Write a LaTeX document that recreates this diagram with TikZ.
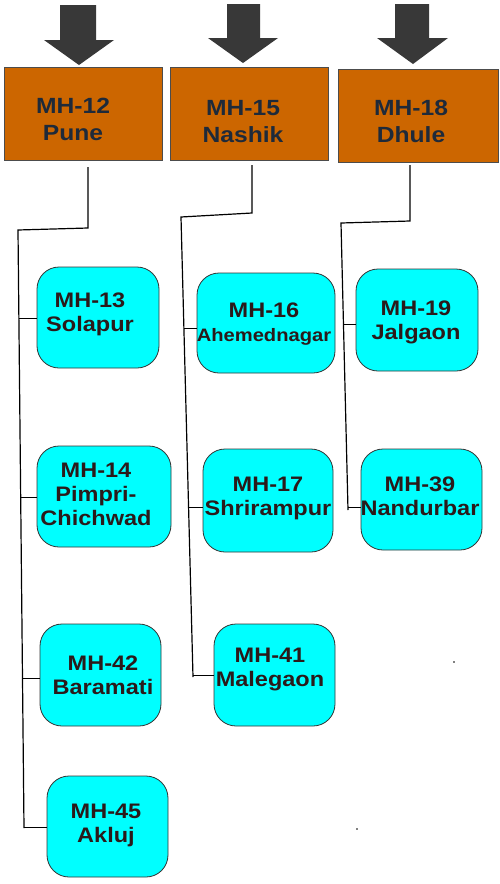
\documentclass[tikz,border=0pt]{standalone}
\usepackage{fontspec}
\setmainfont{Liberation Sans}
\newfontfamily\labfont[FakeStretch=1.12]{Liberation Sans}
\usetikzlibrary{calc}
\definecolor{hubor}{HTML}{CC6600}
\definecolor{hubtxt}{HTML}{1E2A3A}
\definecolor{subcy}{HTML}{00FFFF}
\definecolor{subtxt}{HTML}{2B1A1A}
\definecolor{arrgray}{HTML}{383838}
\begin{document}
\begin{tikzpicture}[x=1pt,y=-1pt,
  hub/.style={draw=gray!60!black, line width=0.8pt, fill=hubor, inner sep=0pt,
    minimum height=93pt},
  hubtext/.style={text=hubtxt, align=center, inner sep=0pt, anchor=north,
    font=\labfont\bfseries\fontsize{22}{27}\selectfont},
  sub/.style={draw=gray!40!black, line width=0.8pt, fill=subcy, inner sep=0pt,
    rounded corners=22pt, minimum height=101pt},
  subtext/.style={text=subtxt, align=center, inner sep=0pt, anchor=north,
    font=\labfont\bfseries\fontsize{21}{24}\selectfont},
  conn/.style={draw=black, line width=1.2pt},
  blockarrow/.style={fill=arrgray, draw=none}
]
\useasboundingbox (0,0) rectangle (500,884);

% block arrows
\fill[blockarrow] (60,5) -- (96,5) -- (96,40) -- (114,40) -- (79,65) -- (44,40) -- (60,40) -- cycle;
\fill[blockarrow] (227,4) -- (260,4) -- (260,38) -- (278,38) -- (243,63) -- (208,38) -- (227,38) -- cycle;
\fill[blockarrow] (395,4) -- (429,4) -- (429,38) -- (448,38) -- (413,64) -- (377,38) -- (395,38) -- cycle;

% hub boxes
\node[hub, minimum width=158pt] (o1) at (83,113.5) {};
\node[hub, minimum width=158pt] (o2) at (249,113.5) {};
\node[hub, minimum width=160pt] (o3) at (418,115.5) {};
\node[hubtext] (o1t) at (73,98) {MH-12\\Pune};
\node[hubtext] (o2t) at (243,100) {MH-15\\Nashik};
\node[hubtext] (o3t) at (411,100) {MH-18\\Dhule};

% sub boxes
\node[sub, minimum width=122pt] (sol) at (98,317.5) {};
\node[sub, minimum width=134pt] (pim) at (104,496.5) {};
\node[sub, minimum width=121pt, minimum height=102pt] (bar) at (100.5,675) {};
\node[sub, minimum width=121pt] (akl) at (107.5,826.5) {};
\node[sub, minimum width=138pt, minimum height=100pt] (ahm) at (266,323) {};
\node[sub, minimum width=130pt, minimum height=103pt] (shr) at (268,500.5) {};
\node[sub, minimum width=121pt, minimum height=102pt] (mal) at (274.5,675) {};
\node[sub, minimum width=122pt, minimum height=102pt] (jal) at (417,320) {};
\node[sub, minimum width=121pt] (nan) at (421.5,499.5) {};

\node[subtext] (solt) at (90,293) {MH-13\\Solapur};
\node[subtext] (pimt) at (96,463) {MH-14\\Pimpri-\\Chichwad};
\node[subtext] (bart) at (103,656) {MH-42\\Baramati};
\node[subtext] (aklt) at (106,804) {MH-45\\Akluj};
\node[subtext] (ahmt) at (264,303) {MH-16\\{\fontsize{18}{24}\selectfont Ahemednagar}};
\node[subtext] (shrt) at (268,477) {MH-17\\Shrirampur};
\node[subtext] (malt) at (270,648) {MH-41\\Malegaon};
\node[subtext] (jalt) at (416,301) {MH-19\\Jalgaon};
\node[subtext] (nant) at (420,477) {MH-39\\Nandurbar};

% connector coordinates
\coordinate (a1) at (88,167);
\coordinate (b1) at (88,228);
\coordinate (c1) at (18,230);
\coordinate (d1) at (24,828);
\coordinate (a2) at (252,165);
\coordinate (b2) at (252,213);
\coordinate (c2) at (181,217);
\coordinate (d2) at (193,677);
\coordinate (a3) at (410,165);
\coordinate (b3) at (410,221);
\coordinate (c3) at (341,223);
\coordinate (d3) at (348,510);

\path[conn] (a1) -- (b1) -- (c1) -- (d1);
\path[conn] (a2) -- (b2) -- (c2) -- (d2);
\path[conn] (a3) -- (b3) -- (c3) -- (d3);

% branches
\coordinate (jsol) at ($(c1)!($(sol.west)+(0,0.5)$)!(d1)$);
\coordinate (jpim) at ($(c1)!($(pim.west)+(0,0.5)$)!(d1)$);
\coordinate (jbar) at ($(c1)!($(bar.west)+(0,3)$)!(d1)$);
\coordinate (jakl) at ($(c1)!($(akl.west)+(0,0.5)$)!(d1)$);
\coordinate (jahm) at ($(c2)!($(ahm.west)+(0,5)$)!(d2)$);
\coordinate (jshr) at ($(c2)!($(shr.west)+(0,6.5)$)!(d2)$);
\coordinate (jmal) at ($(c2)!(mal.west)!(d2)$);
\coordinate (jjal) at ($(c3)!($(jal.west)+(0,4)$)!(d3)$);
\coordinate (jnan) at ($(c3)!($(nan.west)+(0,7.5)$)!(d3)$);

\path[conn] (jsol) -- (sol.west |- jsol);
\path[conn] (jpim) -- (pim.west |- jpim);
\path[conn] (jbar) -- (bar.west |- jbar);
\path[conn] (jakl) -- (akl.west |- jakl);
\path[conn] (jahm) -- (ahm.west |- jahm);
\path[conn] (jshr) -- (shr.west |- jshr);
\path[conn] (jmal) -- (mal.west |- jmal);
\path[conn] (jjal) -- (jal.west |- jjal);
\path[conn] (jnan) -- (nan.west |- jnan);

% stray dots
\fill[black] (454,662) circle (0.8pt);
\fill[black] (357,829) circle (0.8pt);
\end{tikzpicture}
\end{document}
